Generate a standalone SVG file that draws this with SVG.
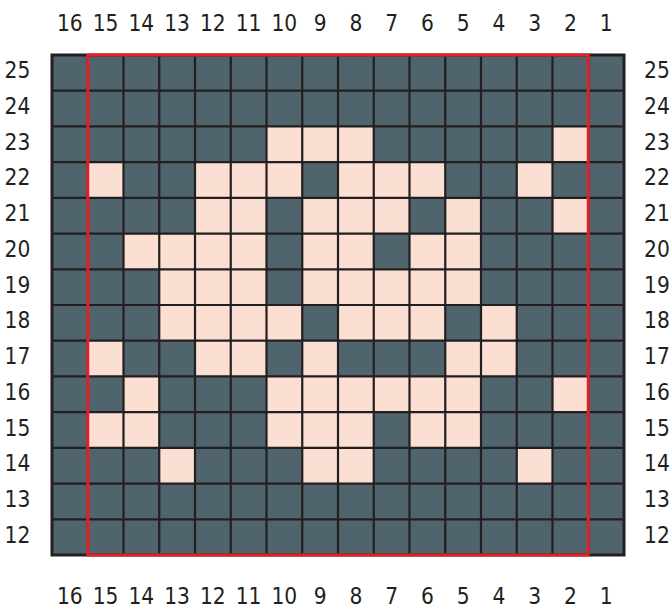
<svg xmlns="http://www.w3.org/2000/svg" width="670" height="610" viewBox="0 0 670 610">
<style>
.t{font-family:"DejaVu Sans Condensed","Liberation Sans Narrow","Liberation Sans",sans-serif;font-size:22.5px;fill:#231f20;text-anchor:middle}
.l{fill:#fbdfd3}
.g{fill:none;stroke:#231f20;stroke-width:2.2}
</style>
<rect width="670" height="610" fill="#ffffff"/>
<g id="grid">
<rect x="52" y="55" width="572" height="500" fill="#4f646d"/>
<g id="light-cells">
<rect class="l" x="266.5" y="126.43" width="35.75" height="35.72"/>
<rect class="l" x="302.25" y="126.43" width="35.75" height="35.72"/>
<rect class="l" x="338" y="126.43" width="35.75" height="35.72"/>
<rect class="l" x="552.5" y="126.43" width="35.75" height="35.72"/>

<rect class="l" x="87.75" y="162.14" width="35.75" height="35.72"/>
<rect class="l" x="195" y="162.14" width="35.75" height="35.72"/>
<rect class="l" x="230.75" y="162.14" width="35.75" height="35.72"/>
<rect class="l" x="266.5" y="162.14" width="35.75" height="35.72"/>
<rect class="l" x="338" y="162.14" width="35.75" height="35.72"/>
<rect class="l" x="373.75" y="162.14" width="35.75" height="35.72"/>
<rect class="l" x="409.5" y="162.14" width="35.75" height="35.72"/>
<rect class="l" x="516.75" y="162.14" width="35.75" height="35.72"/>

<rect class="l" x="195" y="197.86" width="35.75" height="35.72"/>
<rect class="l" x="230.75" y="197.86" width="35.75" height="35.72"/>
<rect class="l" x="302.25" y="197.86" width="35.75" height="35.72"/>
<rect class="l" x="338" y="197.86" width="35.75" height="35.72"/>
<rect class="l" x="373.75" y="197.86" width="35.75" height="35.72"/>
<rect class="l" x="445.25" y="197.86" width="35.75" height="35.72"/>
<rect class="l" x="552.5" y="197.86" width="35.75" height="35.72"/>

<rect class="l" x="123.5" y="233.57" width="35.75" height="35.72"/>
<rect class="l" x="159.25" y="233.57" width="35.75" height="35.72"/>
<rect class="l" x="195" y="233.57" width="35.75" height="35.72"/>
<rect class="l" x="230.75" y="233.57" width="35.75" height="35.72"/>
<rect class="l" x="302.25" y="233.57" width="35.75" height="35.72"/>
<rect class="l" x="338" y="233.57" width="35.75" height="35.72"/>
<rect class="l" x="409.5" y="233.57" width="35.75" height="35.72"/>
<rect class="l" x="445.25" y="233.57" width="35.75" height="35.72"/>

<rect class="l" x="159.25" y="269.29" width="35.75" height="35.72"/>
<rect class="l" x="195" y="269.29" width="35.75" height="35.72"/>
<rect class="l" x="230.75" y="269.29" width="35.75" height="35.72"/>
<rect class="l" x="302.25" y="269.29" width="35.75" height="35.72"/>
<rect class="l" x="338" y="269.29" width="35.75" height="35.72"/>
<rect class="l" x="373.75" y="269.29" width="35.75" height="35.72"/>
<rect class="l" x="409.5" y="269.29" width="35.75" height="35.72"/>
<rect class="l" x="445.25" y="269.29" width="35.75" height="35.72"/>

<rect class="l" x="159.25" y="305" width="35.75" height="35.72"/>
<rect class="l" x="195" y="305" width="35.75" height="35.72"/>
<rect class="l" x="230.75" y="305" width="35.75" height="35.72"/>
<rect class="l" x="266.5" y="305" width="35.75" height="35.72"/>
<rect class="l" x="338" y="305" width="35.75" height="35.72"/>
<rect class="l" x="373.75" y="305" width="35.75" height="35.72"/>
<rect class="l" x="409.5" y="305" width="35.75" height="35.72"/>
<rect class="l" x="481" y="305" width="35.75" height="35.72"/>

<rect class="l" x="87.75" y="340.71" width="35.75" height="35.72"/>
<rect class="l" x="195" y="340.71" width="35.75" height="35.72"/>
<rect class="l" x="230.75" y="340.71" width="35.75" height="35.72"/>
<rect class="l" x="302.25" y="340.71" width="35.75" height="35.72"/>
<rect class="l" x="445.25" y="340.71" width="35.75" height="35.72"/>
<rect class="l" x="481" y="340.71" width="35.75" height="35.72"/>

<rect class="l" x="123.5" y="376.43" width="35.75" height="35.72"/>
<rect class="l" x="266.5" y="376.43" width="35.75" height="35.72"/>
<rect class="l" x="302.25" y="376.43" width="35.75" height="35.72"/>
<rect class="l" x="338" y="376.43" width="35.75" height="35.72"/>
<rect class="l" x="373.75" y="376.43" width="35.75" height="35.72"/>
<rect class="l" x="409.5" y="376.43" width="35.75" height="35.72"/>
<rect class="l" x="445.25" y="376.43" width="35.75" height="35.72"/>
<rect class="l" x="552.5" y="376.43" width="35.75" height="35.72"/>

<rect class="l" x="87.75" y="412.14" width="35.75" height="35.72"/>
<rect class="l" x="123.5" y="412.14" width="35.75" height="35.72"/>
<rect class="l" x="266.5" y="412.14" width="35.75" height="35.72"/>
<rect class="l" x="302.25" y="412.14" width="35.75" height="35.72"/>
<rect class="l" x="338" y="412.14" width="35.75" height="35.72"/>
<rect class="l" x="409.5" y="412.14" width="35.75" height="35.72"/>
<rect class="l" x="445.25" y="412.14" width="35.75" height="35.72"/>

<rect class="l" x="159.25" y="447.86" width="35.75" height="35.72"/>
<rect class="l" x="302.25" y="447.86" width="35.75" height="35.72"/>
<rect class="l" x="338" y="447.86" width="35.75" height="35.72"/>
<rect class="l" x="516.75" y="447.86" width="35.75" height="35.72"/>
</g>
<path class="g" d="M87.75 55V555M123.5 55V555M159.25 55V555M195 55V555M230.75 55V555M266.5 55V555M302.25 55V555M338 55V555M373.75 55V555M409.5 55V555M445.25 55V555M481 55V555M516.75 55V555M552.5 55V555M588.25 55V555M52 90.71H624M52 126.43H624M52 162.14H624M52 197.86H624M52 233.57H624M52 269.29H624M52 305H624M52 340.71H624M52 376.43H624M52 412.14H624M52 447.86H624M52 483.57H624M52 519.29H624"/>
<rect x="52" y="55" width="572" height="500" fill="none" stroke="#231f20" stroke-width="3"/>
<rect id="repeat" x="87.75" y="55" width="500.5" height="500" fill="none" stroke="#e3202a" stroke-width="3"/>
</g>
<g id="col-top" class="t">
<text x="69.88" y="30.5">16</text><text x="105.63" y="30.5">15</text><text x="141.38" y="30.5">14</text><text x="177.13" y="30.5">13</text><text x="212.88" y="30.5">12</text><text x="248.63" y="30.5">11</text><text x="284.38" y="30.5">10</text><text x="320.13" y="30.5">9</text><text x="355.88" y="30.5">8</text><text x="391.63" y="30.5">7</text><text x="427.38" y="30.5">6</text><text x="463.13" y="30.5">5</text><text x="498.88" y="30.5">4</text><text x="534.63" y="30.5">3</text><text x="570.38" y="30.5">2</text><text x="606.13" y="30.5">1</text>
</g>
<g id="col-bottom" class="t">
<text x="69.88" y="604">16</text><text x="105.63" y="604">15</text><text x="141.38" y="604">14</text><text x="177.13" y="604">13</text><text x="212.88" y="604">12</text><text x="248.63" y="604">11</text><text x="284.38" y="604">10</text><text x="320.13" y="604">9</text><text x="355.88" y="604">8</text><text x="391.63" y="604">7</text><text x="427.38" y="604">6</text><text x="463.13" y="604">5</text><text x="498.88" y="604">4</text><text x="534.63" y="604">3</text><text x="570.38" y="604">2</text><text x="606.13" y="604">1</text>
</g>
<g id="row-left" class="t">
<text x="17.5" y="78.3">25</text><text x="17.5" y="114">24</text><text x="17.5" y="149.7">23</text><text x="17.5" y="185.4">22</text><text x="17.5" y="221.2">21</text><text x="17.5" y="256.9">20</text><text x="17.5" y="292.6">19</text><text x="17.5" y="328.3">18</text><text x="17.5" y="364">17</text><text x="17.5" y="399.7">16</text><text x="17.5" y="435.5">15</text><text x="17.5" y="471.2">14</text><text x="17.5" y="506.9">13</text><text x="17.5" y="542.6">12</text>
</g>
<g id="row-right" class="t">
<text x="657" y="78.3">25</text><text x="657" y="114">24</text><text x="657" y="149.7">23</text><text x="657" y="185.4">22</text><text x="657" y="221.2">21</text><text x="657" y="256.9">20</text><text x="657" y="292.6">19</text><text x="657" y="328.3">18</text><text x="657" y="364">17</text><text x="657" y="399.7">16</text><text x="657" y="435.5">15</text><text x="657" y="471.2">14</text><text x="657" y="506.9">13</text><text x="657" y="542.6">12</text>
</g>
</svg>
